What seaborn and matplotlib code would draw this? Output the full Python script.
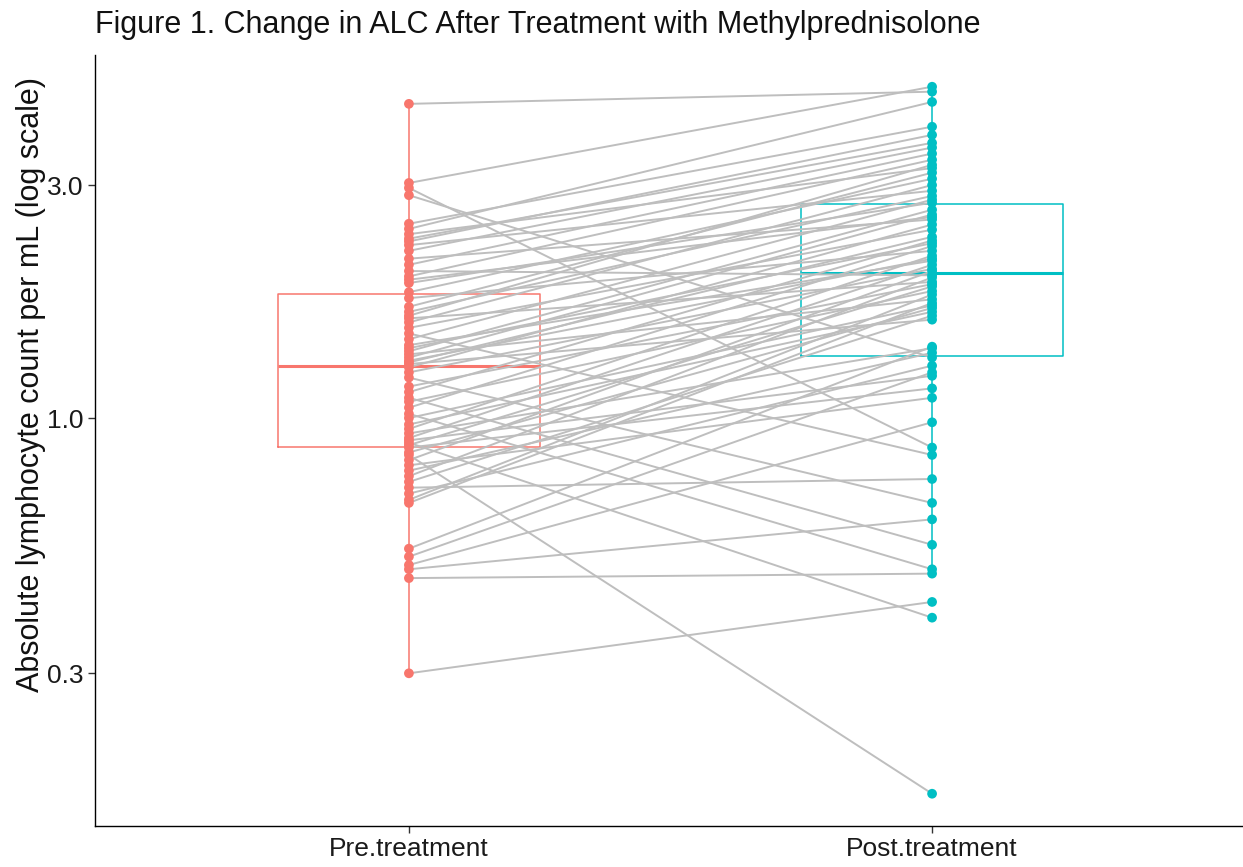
import matplotlib
matplotlib.use('Agg')
import matplotlib.pyplot as plt
from matplotlib.ticker import NullLocator
import pandas as pd
import seaborn as sns

# timepoints, in plotting order
groups = ['Pre.treatment', 'Post.treatment']
group_colors = ['#F8766D', '#00BFC4']

# ALC per patient (same index = same patient)
pre_alc = [4.40, 3.03, 2.96, 2.86, 2.50, 2.44, 2.38, 2.33, 2.26, 2.20,
           2.12, 2.06, 2.00, 1.95, 1.89, 1.81, 1.76, 1.69, 1.65, 1.60,
           1.57, 1.53, 1.49, 1.45, 1.41, 1.37, 1.35, 1.33, 1.30, 1.29,
           1.27, 1.24, 1.21, 1.13, 1.10, 1.08, 1.05, 1.02, 0.97, 0.95,
           0.93, 0.91, 0.89, 0.87, 0.88, 0.85, 0.84, 0.82, 0.78, 0.76,
           0.74, 0.70, 0.68, 0.67, 0.54, 0.52, 0.50, 0.49, 0.47, 0.30,
           2.30, 1.92, 1.62, 1.39, 1.31, 1.16, 1.00, 0.90, 0.80, 0.72]
post_alc = [4.66, 4.77, 0.87, 1.33, 3.95, 4.44, 3.25, 3.66, 2.92, 3.58,
            2.55, 3.48, 1.96, 3.38, 2.76, 3.09, 2.20, 3.18, 2.85, 1.90,
            3.00, 2.43, 0.84, 2.80, 2.10, 2.67, 1.75, 2.61, 2.35, 1.59,
            2.49, 2.02, 0.67, 2.31, 0.55, 1.82, 2.25, 0.49, 1.65, 2.15,
            1.39, 2.06, 0.39, 1.15, 1.86, 1.68, 0.17, 2.00, 1.36, 1.94,
            1.62, 1.28, 1.79, 1.72, 1.40, 1.24, 0.98, 0.62, 0.48, 0.42,
            3.80, 2.58, 3.30, 2.28, 2.12, 1.88, 1.70, 1.22, 1.10, 0.75]

y_ticks = [0.3, 1.0, 3.0]
y_tick_labels = ['0.3', '1.0', '3.0']

n = len(pre_alc)
df = pd.DataFrame({
    'patient': list(range(n)) * 2,
    'time'   : [groups[0]] * n + [groups[1]] * n,
    'alc'    : pre_alc + post_alc,
})

sns.set_theme(style='ticks')
plt.rcParams['font.family'] = ['Liberation Sans', 'DejaVu Sans']

W, H = 1243, 867
fig = plt.figure(figsize=(W / 100, H / 100), dpi=100)
ax = fig.add_axes([95 / W, 1 - 826 / H, (1246 - 95) / W, (826 - 55) / H])

sns.boxplot(
    data=df, x='time', y='alc', hue='time',
    order=groups, hue_order=groups, palette=group_colors,
    fill=False, width=0.5, dodge=False, showfliers=False, showcaps=False,
    linewidth=1.1, medianprops={'linewidth': 2.2},
    log_scale=True, legend=False, ax=ax,
)
sns.lineplot(
    data=df, x='time', y='alc', units='patient', estimator=None,
    color='#BEBEBE', linewidth=1.4, legend=False, ax=ax, zorder=2.5,
)
sns.stripplot(
    data=df, x='time', y='alc', hue='time',
    order=groups, hue_order=groups, palette=group_colors,
    jitter=False, size=7, linewidth=0, legend=False, ax=ax, zorder=3,
)

ax.set_xlim(-0.6, 1.6)
ax.set_ylim(0.146, 5.54)
ax.set_yticks(y_ticks)
ax.set_yticklabels(y_tick_labels)
ax.yaxis.set_minor_locator(NullLocator())

ax.set_xlabel('')
ax.set_ylabel('Absolute lymphocyte count per mL (log scale)', fontsize=22, color='#111111')
ax.yaxis.label.set_verticalalignment('center')
ax.yaxis.set_label_coords((31 - 95) / (1246 - 95), (826 - 384) / (826 - 55))

sns.despine(ax=ax)
for side in ['left', 'bottom']:
    ax.spines[side].set_color('black')
    ax.spines[side].set_linewidth(1.0)
ax.tick_params(length=5, width=1, color='#333333', labelsize=19,
               labelcolor='#1a1a1a', pad=3)
ax.grid(False)

fig.text(95 / W, 1 - 33 / H,
         'Figure 1. Change in ALC After Treatment with Methylprednisolone',
         fontsize=22, ha='left', va='baseline', color='#111111')

fig.savefig('out.png', dpi=100)
